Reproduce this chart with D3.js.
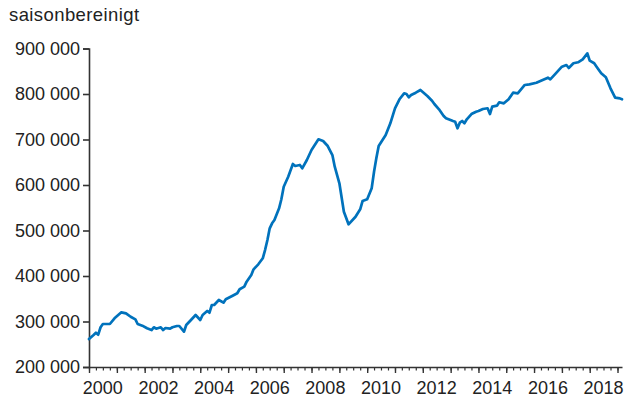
<!DOCTYPE html>
<html>
<head>
<meta charset="utf-8">
<script src="https://cdn.jsdelivr.net/npm/d3@7"></script>
<style>
  html, body { margin: 0; padding: 0; background: #fff; }
  svg { display: block; font-family: "Liberation Sans", Arial, Helvetica, sans-serif; }
</style>
</head>
<body>
<svg id="chart" width="624" height="400"></svg>
<script>
// Monthly observations (seasonally adjusted)
const months = [
  "2000-01","2000-03","2000-04","2000-05","2000-06","2000-07","2000-10","2000-12",
  "2001-03","2001-05","2001-07","2001-09","2001-10","2001-12",
  "2002-02","2002-04","2002-05","2002-06","2002-08","2002-09","2002-10","2002-12",
  "2003-01","2003-03","2003-04","2003-06","2003-07","2003-09","2003-11",
  "2004-01","2004-02","2004-04","2004-05","2004-06","2004-07","2004-09","2004-11","2004-12",
  "2005-03","2005-05","2005-06","2005-08","2005-09","2005-11","2005-12",
  "2006-02","2006-04","2006-05","2006-06","2006-07","2006-08","2006-09","2006-11","2006-12",
  "2007-01","2007-03","2007-05","2007-06","2007-08","2007-09","2007-11",
  "2008-01","2008-04","2008-06","2008-08","2008-10","2008-11",
  "2009-01","2009-03","2009-05","2009-08","2009-10","2009-11",
  "2010-01","2010-03","2010-04","2010-05","2010-06","2010-09","2010-11",
  "2011-01","2011-03","2011-05","2011-06","2011-07","2011-08","2011-10","2011-12",
  "2012-03","2012-05","2012-06","2012-08","2012-10","2012-11",
  "2013-02","2013-03","2013-04","2013-05","2013-06","2013-07","2013-08","2013-10","2013-12",
  "2014-01","2014-03","2014-05","2014-06","2014-07","2014-09","2014-10","2014-12",
  "2015-02","2015-04","2015-06","2015-09","2015-11",
  "2016-02","2016-04","2016-07","2016-08","2016-10",
  "2017-01","2017-03","2017-04","2017-06","2017-08","2017-10","2017-12",
  "2018-01","2018-03","2018-04","2018-06","2018-08","2018-10","2018-12",
  "2019-02","2019-03"
];
const values = [
  261500,270300,275400,271000,287300,294500,294500,307000,
  320200,318000,310500,304800,294500,290800,
  285100,281300,287300,284200,287300,281300,285700,284200,
  287300,290100,290100,277600,292300,303300,314300,
  303300,314300,323100,319300,336300,336300,347300,341300,348800,
  356700,362000,370800,376500,387500,402200,414700,
  425700,438900,457100,479100,504800,515800,523100,548800,568600,
  596300,618200,646200,641800,644000,636700,654900,
  676900,700400,696700,685700,665900,640200,
  603700,541300,513600,530300,546600,564800,
  568600,592800,629200,658700,685700,709900,735600,
  768600,788400,801500,800000,792700,797800,802900,808800,
  795600,785300,778000,766400,751600,746600,
  740700,739100,724600,736900,740700,735600,744400,756000,761100,
  762600,767000,768600,756000,772100,774300,781800,779500,
  788400,802900,801500,819800,821300,
  824800,829200,835800,832300,843300,
  860000,863700,857100,867500,869700,876200,889400,
  873200,867500,860000,845500,836700,812500,791900,
  790400,788400
];
const yTicks = [200000, 300000, 400000, 500000, 600000, 700000, 800000, 900000];
const yearLabels = [2000, 2002, 2004, 2006, 2008, 2010, 2012, 2014, 2016, 2018];
const unitLabel = "saisonbereinigt";

const parseMonth = d3.timeParse("%Y-%m");
const series = months.map((m, i) => ({ date: parseMonth(m), value: values[i] }));

const svg = d3.select("#chart");
const margin = { left: 89, right: 2, top: 48.5, bottom: 33 };
const W = 624, H = 400;

const x = d3.scaleTime()
  .domain([parseMonth("2000-01"), parseMonth("2019-03")])
  .range([margin.left, W - margin.right]);
const y = d3.scaleLinear()
  .domain([200000, 900000])
  .range([H - margin.bottom, margin.top]);

const axisColor = "#333";
const textColor = "#222";

// y axis
const gy = svg.append("g")
  .attr("transform", `translate(${margin.left},0)`)
  .call(d3.axisLeft(y).tickValues(yTicks).tickSize(6).tickSizeOuter(6).tickPadding(3)
    .tickFormat(v => d3.format(",")(v).replace(/,/g, " ")));
gy.selectAll("path, line").attr("stroke", axisColor).attr("stroke-width", 1.6);
gy.selectAll("text").attr("fill", textColor).attr("font-size", 18);

// x axis: quarterly minor ticks, yearly major ticks
const gxMinor = svg.append("g")
  .attr("transform", `translate(0,${y(200000)})`)
  .call(d3.axisBottom(x).ticks(d3.timeMonth.every(3)).tickSize(3.5).tickSizeOuter(0).tickFormat(""));
gxMinor.selectAll("path, line").attr("stroke", axisColor).attr("stroke-width", 1.2);
gxMinor.select("path").attr("stroke-width", 1.6);

const gxMajor = svg.append("g")
  .attr("transform", `translate(0,${y(200000)})`)
  .call(d3.axisBottom(x).ticks(d3.timeYear.every(1)).tickSize(6).tickSizeOuter(0).tickFormat(""));
gxMajor.select("path").remove();
gxMajor.selectAll("line").attr("stroke", axisColor).attr("stroke-width", 1.4);

// year labels centred on the middle of each year
svg.append("g").selectAll("text")
  .data(yearLabels)
  .join("text")
  .attr("x", d => x(new Date(d, 6, 1)))
  .attr("y", y(200000) + 27)
  .attr("text-anchor", "middle")
  .attr("font-size", 18)
  .attr("fill", textColor)
  .text(d => d);

// unit label
svg.append("text")
  .attr("x", 9)
  .attr("y", 21)
  .attr("font-size", 18.5)
  .attr("letter-spacing", 0.4)
  .attr("fill", textColor)
  .text(unitLabel);

// series line
const line = d3.line()
  .x(d => x(d.date))
  .y(d => y(d.value));
svg.append("path")
  .datum(series)
  .attr("fill", "none")
  .attr("stroke", "#0072bc")
  .attr("stroke-width", 2.7)
  .attr("stroke-linejoin", "round")
  .attr("stroke-linecap", "round")
  .attr("d", line);
</script>
</body>
</html>
